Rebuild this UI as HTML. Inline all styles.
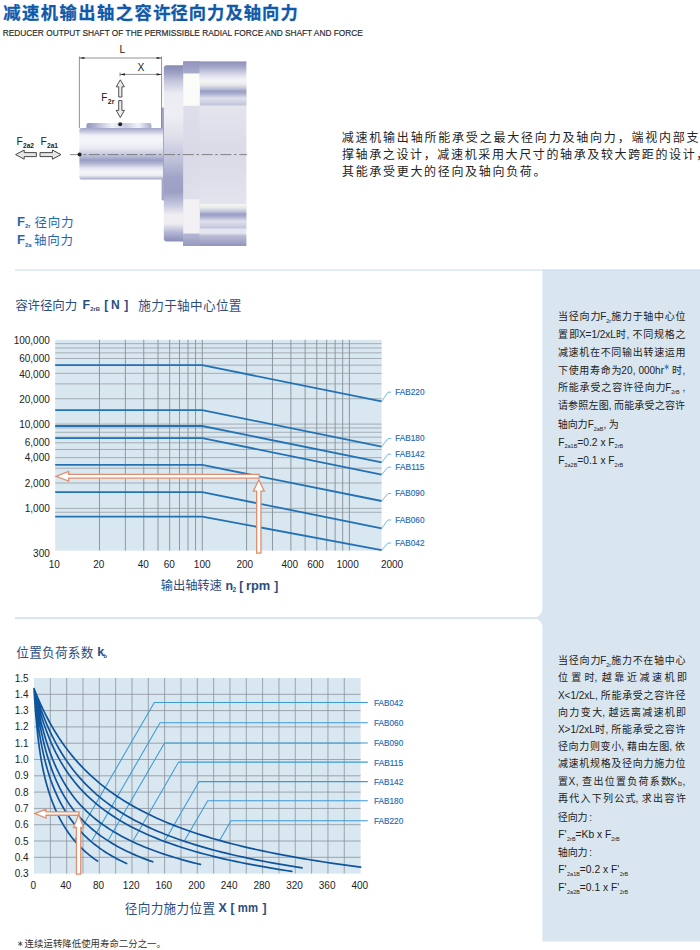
<!DOCTYPE html>
<html lang="zh"><head><meta charset="utf-8"><title>减速机输出轴之容许径向力及轴向力</title>
<style>html,body{margin:0;padding:0;background:#fff}body{width:700px;height:950px;overflow:hidden;font-family:"Liberation Sans","Noto Sans CJK SC",sans-serif}svg{display:block}text{font-family:"Liberation Sans","Noto Sans CJK SC",sans-serif}</style>
</head><body>
<svg width="700" height="950" viewBox="0 0 700 950">
<defs>

<linearGradient id="gShaft" x1="0" y1="0" x2="0" y2="1">
<stop offset="0" stop-color="#a2a7c9"/><stop offset="0.05" stop-color="#bbbed8"/><stop offset="0.14" stop-color="#eff0f6"/><stop offset="0.24" stop-color="#f5f6f9"/><stop offset="0.38" stop-color="#eaebf3"/><stop offset="0.5" stop-color="#cacde1"/><stop offset="0.57" stop-color="#b0b4d1"/><stop offset="0.625" stop-color="#989dc2"/><stop offset="0.69" stop-color="#b1b5d2"/><stop offset="0.77" stop-color="#e0e1ed"/><stop offset="0.85" stop-color="#f5f6f9"/><stop offset="0.92" stop-color="#edeef4"/><stop offset="0.97" stop-color="#c0c3db"/><stop offset="1" stop-color="#a2a7c9"/>
</linearGradient>
<linearGradient id="gKey" x1="0" y1="0" x2="1" y2="0">
<stop offset="0" stop-color="#9298be"/><stop offset="0.12" stop-color="#abafce"/><stop offset="0.4" stop-color="#f3f4f9"/><stop offset="0.6" stop-color="#cacde1"/>
<stop offset="0.8" stop-color="#f3f4f9"/><stop offset="1" stop-color="#a7abcb"/>
</linearGradient>
<linearGradient id="gFlange" x1="0" y1="0" x2="0" y2="1">
<stop offset="0" stop-color="#878ab4"/><stop offset="0.04" stop-color="#9c9fc2"/><stop offset="0.09" stop-color="#c4c6dc"/><stop offset="0.16" stop-color="#ebebf3"/><stop offset="0.28" stop-color="#eeeef4"/><stop offset="0.4" stop-color="#e0e0ec"/><stop offset="0.55" stop-color="#bbbed7"/><stop offset="0.64" stop-color="#9fa3c7"/><stop offset="0.72" stop-color="#9ca0c4"/><stop offset="0.79" stop-color="#c4c6dc"/><stop offset="0.85" stop-color="#f1eef3"/><stop offset="0.9" stop-color="#eeebf2"/><stop offset="0.95" stop-color="#b2b5d2"/><stop offset="1" stop-color="#8a8db7"/>
</linearGradient>
<linearGradient id="gRing" x1="0" y1="0" x2="0" y2="1">
<stop offset="0" stop-color="#9193bc"/><stop offset="0.065" stop-color="#a8abcb"/><stop offset="0.066" stop-color="#fcfcf8"/><stop offset="0.238" stop-color="#fafaf8"/><stop offset="0.243" stop-color="#dfdfeb"/><stop offset="0.5" stop-color="#d8d8e7"/><stop offset="0.745" stop-color="#e0e0ec"/><stop offset="0.75" stop-color="#f4f1f5"/><stop offset="0.93" stop-color="#f3f0f4"/><stop offset="0.935" stop-color="#b4b7d3"/><stop offset="1" stop-color="#9799bf"/>
</linearGradient>
<linearGradient id="gBody" x1="0" y1="0" x2="0" y2="1">
<stop offset="0" stop-color="#8c8eb8"/><stop offset="0.035" stop-color="#aaadcd"/><stop offset="0.075" stop-color="#ddddeb"/><stop offset="0.1" stop-color="#f3f4f7"/><stop offset="0.25" stop-color="#e3e4ee"/><stop offset="0.5" stop-color="#dadae8"/><stop offset="0.75" stop-color="#e2e3ed"/><stop offset="0.93" stop-color="#e4e5ef"/><stop offset="0.945" stop-color="#babcd5"/><stop offset="1" stop-color="#9294bd"/>
</linearGradient>
<linearGradient id="gSlot" x1="0" y1="0" x2="0" y2="1">
<stop offset="0" stop-color="#f5f7f4"/><stop offset="0.15" stop-color="#e7eae9"/><stop offset="0.3" stop-color="#c1c5da"/><stop offset="0.42" stop-color="#989dc5"/><stop offset="0.52" stop-color="#abafcf"/><stop offset="0.7" stop-color="#dee0ec"/><stop offset="0.85" stop-color="#d1d2e4"/><stop offset="1" stop-color="#c1c3d9"/>
</linearGradient>

</defs>
<rect width="700" height="950" fill="#fff"/>
<path d="M542.4 270 H700 V941.4 H542.4 V627.1 A8.5 8.5 0 0 0 533.9 618.6 H15 V617.6 H533.9 A8.5 8.5 0 0 0 542.4 609.1 Z" fill="#d9e6f0"/>
<rect x="15" y="269.5" width="685" height="1" fill="#c9d9ea"/>
<rect x="15" y="617.6" width="520" height="1" fill="#c9d9ea"/>
<g fill="#1059a9" stroke="#1059a9" stroke-width="0.28" stroke-linejoin="round">
<text x="3.16" y="18.5" font-size="17.3" font-weight="bold" textLength="167.3">减速机输出轴之容许</text>
<text x="170.41" y="18.5" font-size="17.3" font-weight="bold" textLength="127.3">径向力及轴向力</text>
</g>
<text x="2.8" y="35.8" font-size="9.3" fill="#2a2a2a" stroke="#2a2a2a" stroke-width="0.18" textLength="360" lengthAdjust="spacingAndGlyphs">REDUCER OUTPUT SHAFT OF THE PERMISSIBLE RADIAL FORCE AND SHAFT AND FORCE</text>
<g>
<rect x="183.2" y="61.4" width="63.2" height="184.6" fill="url(#gBody)"/>
<rect x="183.2" y="61.4" width="16.2" height="184.6" fill="url(#gRing)"/>
<rect x="200" y="81" width="46.4" height="24.5" fill="url(#gSlot)"/>
<rect x="200" y="204" width="46.4" height="24.5" fill="url(#gSlot)"/>
<path d="M166.8 65.3 H183.2 V241.5 H166.8 Q163.8 241.5 163.8 238.5 V68.3 Q163.8 65.3 166.8 65.3Z" fill="url(#gFlange)"/>
<rect x="161.6" y="107.6" width="2.4" height="92.8" fill="#a3a7cc"/>
<path d="M88.4 123 H149.4 Q151.4 123 151.4 125 V128.5 H86.4 V125 Q86.4 123 88.4 123Z" fill="url(#gKey)"/>
<path d="M81.4 128 H161 Q163 128 163 129.5 V178 Q163 179.5 161 179.5 H81.4 Q79.4 179.5 79.4 177.5 V130 Q79.4 128 81.4 128Z" fill="url(#gShaft)"/>
<g stroke="#4a4a4a" stroke-width="0.6" fill="none">
<path d="M79.4 56.5 V128 M161.6 56.5 V128 M79.4 58 H161.6 M120 72.5 V76.5 M120 74.4 H161.6"/>
<path d="M70 154.6 H247" stroke="#666" stroke-width="0.75" stroke-dasharray="11 2.6 2.6 2.6"/>
</g>
<g fill="#222"><path d="M79.4 58 l5 -1.1 v2.2z M161.6 58 l-5 -1.1 v2.2z M120 74.4 l5 -1.1 v2.2z M161.6 74.4 l-5 -1.1 v2.2z"/>
<circle cx="120.2" cy="124.2" r="2"/><circle cx="79.6" cy="154.6" r="2"/></g>
<path d="M120.3 79.8 L116.2 86.8 L118.7 86.8 L118.7 97 L121.9 97 L121.9 86.8 L124.4 86.8 Z" fill="#ececec" stroke="#484848" stroke-width="0.95" stroke-linejoin="miter"/>
<path d="M120.3 117.6 L116.2 110.4 L118.7 110.4 L118.7 100.6 L121.9 100.6 L121.9 110.4 L124.4 110.4 Z" fill="#ececec" stroke="#484848" stroke-width="0.95" stroke-linejoin="miter"/>
<path d="M15.6 154.6 L24.2 150 L24.2 152.6 L36.4 152.6 L36.4 156.6 L24.2 156.6 L24.2 159.2 Z" fill="#e6e6e6" stroke="#484848" stroke-width="1.0" stroke-linejoin="miter"/>
<path d="M61 154.6 L52.4 150 L52.4 152.6 L40 152.6 L40 156.6 L52.4 156.6 L52.4 159.2 Z" fill="#e6e6e6" stroke="#484848" stroke-width="1.0" stroke-linejoin="miter"/>
<text x="122.4" y="53" font-size="10.3" fill="#222" stroke="none" text-anchor="middle">L</text>
<text x="141" y="71" font-size="10.3" fill="#222" stroke="none" text-anchor="middle">X</text>
<text x="101.2" y="100.6" font-size="10" fill="#222" stroke="none">F</text>
<text x="107.8" y="103.9" font-size="6.9" fill="#222" stroke="none" font-weight="bold">2r</text>
<text x="16.4" y="144.6" font-size="10.4" fill="#222" stroke="none">F</text>
<text x="23" y="147.8" font-size="6.6" fill="#222" stroke="none" font-weight="bold">2a2</text>
<text x="40.4" y="144.6" font-size="10.4" fill="#222" stroke="none">F</text>
<text x="47" y="147.8" font-size="6.6" fill="#222" stroke="none" font-weight="bold">2a1</text>
</g>
<text x="16.9" y="226" font-size="13" fill="#1c68b4" stroke="none" font-weight="bold">F</text>
<text x="24.9" y="228.4" font-size="6" fill="#1c68b4" stroke="none" font-weight="bold">2r</text>
<text x="34.62" y="226.9" font-size="12.5" fill="#1c68b4" stroke="none" textLength="38.9">径向力</text>
<text x="16.9" y="244.2" font-size="13" fill="#1c68b4" stroke="none" font-weight="bold">F</text>
<text x="24.9" y="246.6" font-size="6" fill="#1c68b4" stroke="none" font-weight="bold">2a</text>
<text x="34.02" y="245.1" font-size="12.5" fill="#1c68b4" stroke="none" textLength="38.9">轴向力</text>
<g fill="#222" stroke="none">
<text x="341.64" y="141.9" font-size="12" textLength="357">减速机输出轴所能承受之最大径向力及轴向力，端视内部支</text>
<text x="341.96" y="159" font-size="12" textLength="366.4">撑轴承之设计，减速机采用大尺寸的轴承及较大跨距的设计，</text>
<text x="341.96" y="176.1" font-size="12" textLength="203.6">其能承受更大的径向及轴向负荷。</text>
</g>
<text x="15.25" y="310" font-size="12.5" fill="#2b4d7e" stroke="none" textLength="62">容许径向力</text>
<text x="82.4" y="309.2" font-size="12.4" fill="#2b4d7e" stroke="none" font-weight="bold">F</text>
<text x="90.2" y="311" font-size="5.9" fill="#2b4d7e" stroke="none" font-weight="bold">2rB</text>
<text x="104.3" y="309.2" font-size="12" fill="#2b4d7e" stroke="none" font-weight="bold">[</text>
<text x="111" y="309.2" font-size="12" fill="#2b4d7e" stroke="none" font-weight="bold">N</text>
<text x="124.3" y="309.2" font-size="12" fill="#2b4d7e" stroke="none" font-weight="bold">]</text>
<text x="138.25" y="310" font-size="12.6" fill="#2b4d7e" stroke="none" textLength="103.2">施力于轴中心位置</text>
<rect x="55.2" y="339.8" width="326.4" height="210.8" fill="#d9e7f0"/>
<path d="M99.48 339.8V550.6M125.38 339.8V550.6M143.76 339.8V550.6M158.02 339.8V550.6M169.67 339.8V550.6M179.51 339.8V550.6M188.04 339.8V550.6M195.57 339.8V550.6M202.3 339.8V550.6M246.58 339.8V550.6M272.48 339.8V550.6M290.86 339.8V550.6M305.12 339.8V550.6M316.77 339.8V550.6M326.61 339.8V550.6M335.14 339.8V550.6M342.67 339.8V550.6M349.4 339.8V550.6" stroke="#6f757d" stroke-width="0.7" fill="none"/>
<path d="M55.2 512.26H381.6M55.2 508.4H381.6M55.2 483.02H381.6M55.2 468.18H381.6M55.2 457.65H381.6M55.2 449.48H381.6M55.2 442.8H381.6M55.2 437.16H381.6M55.2 432.27H381.6M55.2 427.96H381.6M55.2 424.1H381.6M55.2 398.72H381.6M55.2 383.88H381.6M55.2 373.35H381.6M55.2 365.18H381.6M55.2 358.5H381.6M55.2 352.86H381.6M55.2 347.97H381.6M55.2 343.66H381.6" stroke="#8d939b" stroke-width="0.7" fill="none"/>
<text x="49.8" y="344" font-size="10" fill="#222" stroke="none" text-anchor="end">100,000</text>
<text x="49.8" y="362" font-size="10" fill="#222" stroke="none" text-anchor="end">60,000</text>
<text x="49.8" y="377.6" font-size="10" fill="#222" stroke="none" text-anchor="end">40,000</text>
<text x="49.8" y="402.8" font-size="10" fill="#222" stroke="none" text-anchor="end">20,000</text>
<text x="49.8" y="427.8" font-size="10" fill="#222" stroke="none" text-anchor="end">10,000</text>
<text x="49.8" y="446.2" font-size="10" fill="#222" stroke="none" text-anchor="end">6,000</text>
<text x="49.8" y="461.2" font-size="10" fill="#222" stroke="none" text-anchor="end">4,000</text>
<text x="49.8" y="486.6" font-size="10" fill="#222" stroke="none" text-anchor="end">2,000</text>
<text x="49.8" y="512" font-size="10" fill="#222" stroke="none" text-anchor="end">1,000</text>
<text x="49.8" y="556.6" font-size="10" fill="#222" stroke="none" text-anchor="end">300</text>
<text x="54.2" y="568" font-size="10" fill="#222" stroke="none" text-anchor="middle">10</text>
<text x="98.8" y="568" font-size="10" fill="#222" stroke="none" text-anchor="middle">20</text>
<text x="143.2" y="568" font-size="10" fill="#222" stroke="none" text-anchor="middle">40</text>
<text x="169.2" y="568" font-size="10" fill="#222" stroke="none" text-anchor="middle">60</text>
<text x="202.2" y="568" font-size="10" fill="#222" stroke="none" text-anchor="middle">100</text>
<text x="244.8" y="568" font-size="10" fill="#222" stroke="none" text-anchor="middle">200</text>
<text x="289.8" y="568" font-size="10" fill="#222" stroke="none" text-anchor="middle">400</text>
<text x="315.6" y="568" font-size="10" fill="#222" stroke="none" text-anchor="middle">600</text>
<text x="347.6" y="568" font-size="10" fill="#222" stroke="none" text-anchor="middle">1000</text>
<text x="392" y="568" font-size="10" fill="#222" stroke="none" text-anchor="middle">2000</text>
<path d="M55.2 365.1H202.3L381.6 401.4M55.2 410.2H202.3L381.6 446.6M55.2 426H202.3L381.6 462.4M55.2 438.1H202.3L381.6 474.6M55.2 464.9H202.3L381.6 501M55.2 492.1H202.3L381.6 528.4M55.2 516.6H202.3L381.6 550.2" stroke="#2372b6" stroke-width="1.8" fill="none" stroke-linejoin="round"/>
<path d="M381.6 401.4L388 392.2H391.2M381.6 446.6L388 438.6H391.2M381.6 462.4L388 454.2H391.2M381.6 474.6L388 467.2H391.2M381.6 501L388 493.6H391.2M381.6 528.4L388 520H391.2M381.6 550.2L388 543H391.2" stroke="#3a9bd5" stroke-width="0.7" fill="none"/>
<text x="395.3" y="395" font-size="9.8" fill="#1c68b4" stroke="#1c68b4" stroke-width="0.15" textLength="29.2" lengthAdjust="spacingAndGlyphs">FAB220</text>
<text x="395.3" y="441.4" font-size="9.8" fill="#1c68b4" stroke="#1c68b4" stroke-width="0.15" textLength="29.2" lengthAdjust="spacingAndGlyphs">FAB180</text>
<text x="395.3" y="457" font-size="9.8" fill="#1c68b4" stroke="#1c68b4" stroke-width="0.15" textLength="29.2" lengthAdjust="spacingAndGlyphs">FAB142</text>
<text x="395.3" y="470" font-size="9.8" fill="#1c68b4" stroke="#1c68b4" stroke-width="0.15" textLength="29.2" lengthAdjust="spacingAndGlyphs">FAB115</text>
<text x="395.3" y="496.4" font-size="9.8" fill="#1c68b4" stroke="#1c68b4" stroke-width="0.15" textLength="29.2" lengthAdjust="spacingAndGlyphs">FAB090</text>
<text x="395.3" y="522.8" font-size="9.8" fill="#1c68b4" stroke="#1c68b4" stroke-width="0.15" textLength="29.2" lengthAdjust="spacingAndGlyphs">FAB060</text>
<text x="395.3" y="545.8" font-size="9.8" fill="#1c68b4" stroke="#1c68b4" stroke-width="0.15" textLength="29.2" lengthAdjust="spacingAndGlyphs">FAB042</text>
<path d="M56 476.3 L68.7 471.5 L68.7 474.45 L259.2 474.45 L259.2 478.15 L68.7 478.15 L68.7 481.1 Z" fill="#fff" stroke="#e08e6e" stroke-width="1.3" stroke-linejoin="miter"/>
<path d="M258.8 480 L253.3 491.2 L256.65 491.2 L256.65 553.2 L260.95 553.2 L260.95 491.2 L264.3 491.2 Z" fill="#fff" stroke="#e08e6e" stroke-width="1.3" stroke-linejoin="miter"/>
<text x="160.85" y="590.1" font-size="12.3" fill="#2b4d7e" stroke="none" textLength="61">输出轴转速</text>
<text x="225.4" y="589.6" font-size="12.4" fill="#2b4d7e" stroke="none" font-weight="bold">n</text>
<text x="232.6" y="591.6" font-size="6.6" fill="#2b4d7e" stroke="none" font-weight="bold">2</text>
<text x="239.2" y="589.6" font-size="12" fill="#2b4d7e" stroke="none" font-weight="bold">[</text>
<text x="246" y="589.6" font-size="12.4" fill="#2b4d7e" stroke="none" font-weight="bold" textLength="24.3" lengthAdjust="spacingAndGlyphs">rpm</text>
<text x="274.2" y="589.6" font-size="12" fill="#2b4d7e" stroke="none" font-weight="bold">]</text>
<text x="16.23" y="657" font-size="12.6" fill="#2b4d7e" stroke="none" textLength="77.1">位置负荷系数</text>
<text x="97.2" y="656.4" font-size="12.6" fill="#2b4d7e" stroke="none" font-weight="bold">k</text>
<text x="103.6" y="658" font-size="5.8" fill="#2b4d7e" stroke="none" font-weight="bold">b</text>
<rect x="34" y="678" width="326.6" height="195.6" fill="#d9e7f0"/>
<path d="M50.33 678V873.6M66.66 678V873.6M82.99 678V873.6M99.32 678V873.6M115.65 678V873.6M131.98 678V873.6M148.31 678V873.6M164.64 678V873.6M180.97 678V873.6M197.3 678V873.6M213.63 678V873.6M229.96 678V873.6M246.29 678V873.6M262.62 678V873.6M278.95 678V873.6M295.28 678V873.6M311.61 678V873.6M327.94 678V873.6M344.27 678V873.6M34 694.3H360.6M34 710.6H360.6M34 726.9H360.6M34 743.2H360.6M34 759.5H360.6M34 775.8H360.6M34 792.1H360.6M34 808.4H360.6M34 824.7H360.6M34 841H360.6M34 857.3H360.6" stroke="#878d97" stroke-width="0.75" fill="none"/>
<text x="28.6" y="681.5" font-size="10" fill="#222" stroke="none" text-anchor="end">1.5</text>
<text x="28.6" y="697.8" font-size="10" fill="#222" stroke="none" text-anchor="end">1.4</text>
<text x="28.6" y="714.1" font-size="10" fill="#222" stroke="none" text-anchor="end">1.3</text>
<text x="28.6" y="730.4" font-size="10" fill="#222" stroke="none" text-anchor="end">1.2</text>
<text x="28.6" y="746.7" font-size="10" fill="#222" stroke="none" text-anchor="end">1.1</text>
<text x="28.6" y="763" font-size="10" fill="#222" stroke="none" text-anchor="end">1.0</text>
<text x="28.6" y="779.3" font-size="10" fill="#222" stroke="none" text-anchor="end">0.9</text>
<text x="28.6" y="795.6" font-size="10" fill="#222" stroke="none" text-anchor="end">0.8</text>
<text x="28.6" y="811.9" font-size="10" fill="#222" stroke="none" text-anchor="end">0.7</text>
<text x="28.6" y="828.2" font-size="10" fill="#222" stroke="none" text-anchor="end">0.6</text>
<text x="28.6" y="844.5" font-size="10" fill="#222" stroke="none" text-anchor="end">0.5</text>
<text x="28.6" y="860.8" font-size="10" fill="#222" stroke="none" text-anchor="end">0.4</text>
<text x="28.6" y="877.1" font-size="10" fill="#222" stroke="none" text-anchor="end">0.3</text>
<text x="33.2" y="889" font-size="10" fill="#222" stroke="none" text-anchor="middle">0</text>
<text x="65.86" y="889" font-size="10" fill="#222" stroke="none" text-anchor="middle">40</text>
<text x="98.52" y="889" font-size="10" fill="#222" stroke="none" text-anchor="middle">80</text>
<text x="131.18" y="889" font-size="10" fill="#222" stroke="none" text-anchor="middle">120</text>
<text x="163.84" y="889" font-size="10" fill="#222" stroke="none" text-anchor="middle">160</text>
<text x="196.5" y="889" font-size="10" fill="#222" stroke="none" text-anchor="middle">200</text>
<text x="229.16" y="889" font-size="10" fill="#222" stroke="none" text-anchor="middle">240</text>
<text x="261.82" y="889" font-size="10" fill="#222" stroke="none" text-anchor="middle">280</text>
<text x="294.48" y="889" font-size="10" fill="#222" stroke="none" text-anchor="middle">320</text>
<text x="327.14" y="889" font-size="10" fill="#222" stroke="none" text-anchor="middle">360</text>
<text x="359.8" y="889" font-size="10" fill="#222" stroke="none" text-anchor="middle">400</text>
<path d="M74.51 840.6L154.3 702.4H367.8M91.99 840.6L160 722.8H367.8M108.09 840.6L164.5 742.9H367.8M133.28 840.6L178.6 762.1H367.8M165.04 840.6L199.1 781.6H367.8M184.66 840.6L207.7 800.7H367.8M219.57 840.6L231 820.8H367.8" stroke="#3a9bd5" stroke-width="1.05" fill="none"/>
<path d="M34 688.6L34.07 689.78L34.21 692.15L34.41 695.28L34.65 698.95L34.93 703.03L35.25 707.39L35.6 711.94L35.98 716.6L36.39 721.29L36.82 725.98L37.29 730.62L37.78 735.18L38.3 739.62L38.84 743.95L39.4 748.15L39.99 752.2L40.6 756.12L41.23 759.9L41.88 763.55L42.56 767.07L43.25 770.46L43.97 773.74L44.7 776.9L45.46 779.97L46.23 782.93L47.02 785.81L47.83 788.6L48.66 791.31L49.51 793.95L50.37 796.51L51.26 799.01L52.16 801.44L53.07 803.81L54.01 806.12L54.96 808.37L55.92 810.57L56.9 812.72L57.9 814.82L58.92 816.86L59.95 818.86L60.99 820.81L62.05 822.71L63.13 824.57L64.22 826.39L65.33 828.16L66.45 829.89L67.58 831.57L68.73 833.22L69.9 834.83L71.08 836.4L72.27 837.93L73.48 839.43L74.7 840.89L75.94 842.31L77.19 843.71L78.45 845.07L79.73 846.39L81.02 847.69L82.32 848.95L83.64 850.19L84.97 851.39L86.31 852.57L87.67 853.72L89.04 854.84L90.42 855.94L91.82 857.01L93.22 858.06L94.64 859.08L96.08 860.08L97.52 861.06M34 688.6L34.1 689.71L34.31 691.92L34.6 694.86L34.95 698.33L35.36 702.2L35.82 706.36L36.33 710.73L36.88 715.24L37.48 719.82L38.12 724.42L38.79 729.01L39.51 733.56L40.26 738.03L41.05 742.41L41.87 746.69L42.73 750.86L43.62 754.9L44.54 758.83L45.49 762.63L46.48 766.32L47.49 769.88L48.53 773.34L49.6 776.68L50.7 779.92L51.83 783.07L52.98 786.11L54.16 789.07L55.37 791.94L56.61 794.72L57.87 797.43L59.15 800.06L60.46 802.62L61.8 805.11L63.16 807.54L64.54 809.89L65.95 812.19L67.38 814.43L68.84 816.61L70.32 818.73L71.82 820.8L73.34 822.81L74.89 824.77L76.46 826.69L78.05 828.55L79.66 830.36L81.3 832.13L82.95 833.86L84.63 835.54L86.33 837.17L88.05 838.77L89.79 840.32L91.55 841.84L93.33 843.32L95.13 844.76L96.95 846.16L98.79 847.53L100.65 848.86L102.53 850.16L104.43 851.43L106.35 852.67L108.29 853.88L110.25 855.05L112.23 856.2L114.22 857.32L116.24 858.41L118.27 859.48L120.32 860.52L122.39 861.54L124.48 862.53L126.59 863.5M34 688.6L34.13 689.57L34.4 691.52L34.77 694.13L35.22 697.24L35.74 700.74L36.33 704.56L36.98 708.61L37.69 712.85L38.46 717.21L39.28 721.66L40.15 726.15L41.06 730.64L42.03 735.12L43.04 739.56L44.1 743.93L45.19 748.22L46.33 752.42L47.51 756.51L48.74 760.5L50 764.38L51.29 768.14L52.63 771.78L54 775.3L55.41 778.71L56.86 782L58.34 785.18L59.86 788.26L61.4 791.23L62.99 794.09L64.6 796.87L66.25 799.55L67.93 802.14L69.64 804.65L71.39 807.08L73.16 809.43L74.97 811.71L76.8 813.92L78.67 816.07L80.57 818.15L82.49 820.18L84.44 822.14L86.43 824.06L88.44 825.92L90.48 827.73L92.55 829.49L94.64 831.2L96.77 832.87L98.92 834.5L101.09 836.09L103.3 837.63L105.53 839.14L107.79 840.61L110.07 842.05L112.38 843.45L114.71 844.81L117.07 846.14L119.46 847.44L121.87 848.71L124.31 849.95L126.77 851.16L129.26 852.34L131.77 853.5L134.3 854.63L136.86 855.73L139.44 856.8L142.05 857.85L144.68 858.88L147.34 859.88L150.02 860.86L152.72 861.82M34 688.6L34.19 689.63L34.56 691.71L35.08 694.49L35.71 697.79L36.44 701.51L37.27 705.56L38.18 709.85L39.18 714.33L40.25 718.93L41.4 723.62L42.61 728.33L43.9 733.05L45.25 737.74L46.67 742.36L48.15 746.92L49.69 751.38L51.29 755.73L52.94 759.96L54.65 764.07L56.42 768.05L58.24 771.9L60.11 775.62L62.04 779.21L64.02 782.68L66.04 786.01L68.12 789.22L70.24 792.32L72.41 795.3L74.63 798.18L76.89 800.95L79.2 803.62L81.56 806.2L83.96 808.69L86.4 811.1L88.89 813.43L91.42 815.68L94 817.86L96.61 819.97L99.27 822.02L101.97 824L104.71 825.93L107.49 827.8L110.31 829.62L113.16 831.38L116.06 833.1L119 834.77L121.98 836.4L124.99 837.98L128.04 839.53L131.13 841.03L134.26 842.49L137.42 843.92L140.62 845.31L143.86 846.67L147.13 847.99L150.44 849.28L153.79 850.54L157.17 851.77L160.58 852.97L164.03 854.14L167.52 855.28L171.03 856.4L174.59 857.49L178.18 858.55L181.8 859.59L185.45 860.61L189.14 861.6L192.86 862.57L196.62 863.51L200.4 864.44M34 688.6L34.29 689.83L34.87 692.28L35.67 695.54L36.64 699.39L37.78 703.68L39.06 708.29L40.47 713.14L42.02 718.13L43.68 723.2L45.46 728.3L47.34 733.37L49.34 738.39L51.43 743.32L53.63 748.14L55.92 752.84L58.3 757.4L60.78 761.82L63.34 766.1L65.99 770.23L68.73 774.22L71.55 778.07L74.45 781.78L77.43 785.36L80.5 788.81L83.63 792.14L86.85 795.36L90.14 798.46L93.5 801.46L96.94 804.36L100.45 807.17L104.02 809.88L107.67 812.51L111.39 815.05L115.18 817.51L119.03 819.9L122.95 822.22L126.94 824.46L130.99 826.64L135.11 828.75L139.29 830.8L143.53 832.79L147.83 834.71L152.2 836.59L156.63 838.41L161.12 840.17L165.67 841.89L170.28 843.55L174.95 845.17L179.68 846.74L184.46 848.27L189.31 849.76L194.21 851.2L199.16 852.6L204.18 853.96L209.25 855.29L214.37 856.58L219.56 857.83L224.79 859.05L230.08 860.24L235.43 861.39L240.82 862.51L246.28 863.6L251.78 864.67L257.34 865.7L262.95 866.71L268.61 867.69L274.32 868.65L280.09 869.58L285.9 870.49L291.77 871.38M34 688.6L34.3 689.59L34.91 691.59L35.74 694.25L36.75 697.42L37.93 700.99L39.26 704.87L40.73 709L42.34 713.3L44.07 717.73L45.91 722.24L47.88 726.79L49.95 731.35L52.13 735.9L54.41 740.4L56.79 744.85L59.27 749.22L61.85 753.51L64.51 757.7L67.27 761.79L70.12 765.78L73.05 769.66L76.07 773.43L79.17 777.09L82.35 780.65L85.61 784.09L88.96 787.44L92.38 790.68L95.88 793.82L99.45 796.86L103.1 799.81L106.82 802.67L110.61 805.44L114.48 808.12L118.42 810.73L122.43 813.25L126.5 815.7L130.65 818.07L134.86 820.38L139.14 822.61L143.49 824.78L147.9 826.89L152.38 828.93L156.92 830.91L161.52 832.84L166.19 834.71L170.92 836.52L175.72 838.29L180.57 840L185.49 841.67L190.47 843.29L195.5 844.86L200.6 846.39L205.76 847.88L210.97 849.32L216.24 850.73L221.57 852.09L226.96 853.42L232.41 854.72L237.91 855.98L243.47 857.2L249.08 858.39L254.75 859.55L260.47 860.68L266.25 861.78L272.08 862.86L277.97 863.9L283.91 864.92L289.91 865.91L295.96 866.87L302.06 867.81M34 688.6L34.36 689.52L35.11 691.38L36.11 693.86L37.35 696.82L38.79 700.16L40.41 703.81L42.2 707.69L44.16 711.75L46.26 715.95L48.52 720.24L50.91 724.58L53.43 728.95L56.09 733.33L58.87 737.68L61.77 742L64.79 746.26L67.93 750.46L71.18 754.59L74.54 758.63L78.01 762.59L81.58 766.45L85.25 770.22L89.03 773.9L92.91 777.48L96.89 780.97L100.96 784.35L105.13 787.65L109.39 790.85L113.74 793.96L118.19 796.98L122.72 799.91L127.35 802.76L132.06 805.52L136.86 808.2L141.74 810.81L146.71 813.33L151.76 815.79L156.89 818.16L162.1 820.47L167.4 822.72L172.78 824.89L178.23 827.01L183.76 829.06L189.38 831.05L195.06 832.98L200.83 834.86L206.67 836.68L212.59 838.45L218.58 840.17L224.64 841.84L230.78 843.46L236.99 845.04L243.27 846.57L249.62 848.06L256.04 849.5L262.54 850.91L269.1 852.28L275.74 853.61L282.44 854.9L289.21 856.16L296.05 857.39L302.96 858.58L309.93 859.74L316.97 860.87L324.08 861.97L331.26 863.04L338.49 864.08L345.8 865.09L353.17 866.08L360.6 867.05" stroke="#0f559e" stroke-width="1.7" fill="none" stroke-linejoin="round" stroke-linecap="round"/>
<text x="374" y="705.8" font-size="9.8" fill="#1c68b4" stroke="#1c68b4" stroke-width="0.15" textLength="29.2" lengthAdjust="spacingAndGlyphs">FAB042</text>
<text x="374" y="726.2" font-size="9.8" fill="#1c68b4" stroke="#1c68b4" stroke-width="0.15" textLength="29.2" lengthAdjust="spacingAndGlyphs">FAB060</text>
<text x="374" y="746.3" font-size="9.8" fill="#1c68b4" stroke="#1c68b4" stroke-width="0.15" textLength="29.2" lengthAdjust="spacingAndGlyphs">FAB090</text>
<text x="374" y="765.5" font-size="9.8" fill="#1c68b4" stroke="#1c68b4" stroke-width="0.15" textLength="29.2" lengthAdjust="spacingAndGlyphs">FAB115</text>
<text x="374" y="785" font-size="9.8" fill="#1c68b4" stroke="#1c68b4" stroke-width="0.15" textLength="29.2" lengthAdjust="spacingAndGlyphs">FAB142</text>
<text x="374" y="804.1" font-size="9.8" fill="#1c68b4" stroke="#1c68b4" stroke-width="0.15" textLength="29.2" lengthAdjust="spacingAndGlyphs">FAB180</text>
<text x="374" y="824.2" font-size="9.8" fill="#1c68b4" stroke="#1c68b4" stroke-width="0.15" textLength="29.2" lengthAdjust="spacingAndGlyphs">FAB220</text>
<path d="M34.8 813.6 L46 809.2 L46 811.95 L79 811.95 L79 815.25 L46 815.25 L46 818 Z" fill="#fff" stroke="#e08e6e" stroke-width="1.3" stroke-linejoin="miter"/>
<path d="M78.6 814.8 L73.6 827.5 L76.45 827.5 L76.45 874.2 L80.75 874.2 L80.75 827.5 L83.6 827.5 Z" fill="#fff" stroke="#e08e6e" stroke-width="1.3" stroke-linejoin="miter"/>
<text x="124.75" y="912.6" font-size="12.6" fill="#2b4d7e" stroke="none" textLength="90.3">径向力施力位置</text>
<text x="218.4" y="912.2" font-size="12.4" fill="#2b4d7e" stroke="none" font-weight="bold">X</text>
<text x="230.4" y="912.2" font-size="12" fill="#2b4d7e" stroke="none" font-weight="bold">[</text>
<text x="237.8" y="912.2" font-size="12.4" fill="#2b4d7e" stroke="none" font-weight="bold" textLength="20.2" lengthAdjust="spacingAndGlyphs">mm</text>
<text x="262.6" y="912.2" font-size="12" fill="#2b4d7e" stroke="none" font-weight="bold">]</text>
<path d="M20.3 941.3v4.8M18.2 942.5l4.2 2.4M18.2 944.9l4.2 -2.4" stroke="#333" stroke-width="0.8" fill="none"/>
<text x="24.61" y="947.3" font-size="9.4" fill="#333" stroke="none" textLength="141.3">连续运转降低使用寿命二分之一。</text>
<g fill="#222" stroke="none">
<text x="557.91" y="320.1" font-size="10" textLength="42.5">当径向力</text>
<text x="600.21" y="320.1" font-size="10" fill="#222" stroke="none">F</text>
<text x="606.32" y="322.7" font-size="5.4" fill="#222" stroke="none">2r</text>
<text x="611.16" y="320.1" font-size="10" textLength="74.4">施力于轴中心位</text>
</g>
<g fill="#222" stroke="none">
<text x="557.91" y="338" font-size="10" textLength="21.25">置即</text>
<text x="578.96" y="338" font-size="10" fill="#222" stroke="none">X=1/2xL</text>
<text x="615.98" y="338" font-size="10">时</text>
<text x="626.6" y="338" font-size="10" fill="#222" stroke="none">, </text>
<text x="632.4" y="338" font-size="10" textLength="53.1">不同规格之</text>
</g>
<g fill="#222" stroke="none">
<text x="557.91" y="356" font-size="10" textLength="127.6">减速机在不同输出转速运用</text>
</g>
<g fill="#222" stroke="none">
<text x="557.91" y="373.5" font-size="10" textLength="63.6">下使用寿命为</text>
<text x="621.35" y="373.5" font-size="10" fill="#222" stroke="none">20</text>
<text x="632.68" y="373.5" font-size="10" fill="#222" stroke="none">, </text>
<text x="638.44" y="373.5" font-size="10" fill="#222" stroke="none">000hr</text>
<path d="M666.71 364.4v5.2M664.61 365.75l4.2 2.5M664.61 368.25l4.2 -2.5" stroke="#2a6cb5" stroke-width="0.85" fill="none"/>
<text x="671.93" y="373.5" font-size="10">时</text>
<text x="682.52" y="373.5" font-size="10" fill="#222" stroke="none">,</text>
</g>
<g fill="#222" stroke="none">
<text x="557.91" y="391.4" font-size="10" textLength="107.6">所能承受之容许径向力</text>
<text x="665.15" y="391.4" font-size="10" fill="#222" stroke="none">F</text>
<text x="671.26" y="394" font-size="5.4" fill="#222" stroke="none">2rB</text>
<text x="682.52" y="391.4" font-size="10" fill="#222" stroke="none">,</text>
</g>
<g fill="#222" stroke="none">
<text x="557.91" y="409.2" font-size="10" textLength="50.8">请参照左图</text>
<text x="608.67" y="409.2" font-size="10" fill="#222" stroke="none">, </text>
<text x="613.99" y="409.2" font-size="10" textLength="71.1">而能承受之容许</text>
</g>
<g fill="#222" stroke="none">
<text x="557.69" y="428" font-size="10" textLength="29.9">轴向力</text>
<text x="587.75" y="428" font-size="10" fill="#222" stroke="none">F</text>
<text x="593.86" y="430.6" font-size="5.4" fill="#222" stroke="none">2aB</text>
<text x="603.47" y="428" font-size="10" fill="#222" stroke="none">, </text>
<text x="608.81" y="428" font-size="10">为</text>
</g>
<g fill="#222" stroke="none">
<text x="558.2" y="445.7" font-size="10.25" fill="#222" stroke="none">F</text>
<text x="564.46" y="448.3" font-size="5.5" fill="#222" stroke="none">2a1B</text>
<text x="577.31" y="445.7" font-size="10.25" fill="#222" stroke="none">=0.2 x F</text>
<text x="614.62" y="448.3" font-size="5.5" fill="#222" stroke="none">2rB</text>
</g>
<g fill="#222" stroke="none">
<text x="558.2" y="463.9" font-size="10.25" fill="#222" stroke="none">F</text>
<text x="564.46" y="466.5" font-size="5.5" fill="#222" stroke="none">2a2B</text>
<text x="577.31" y="463.9" font-size="10.25" fill="#222" stroke="none">=0.1 x F</text>
<text x="614.62" y="466.5" font-size="5.5" fill="#222" stroke="none">2rB</text>
</g>
<g fill="#222" stroke="none">
<text x="557.91" y="664.1" font-size="10" textLength="42.5">当径向力</text>
<text x="600.21" y="664.1" font-size="10" fill="#222" stroke="none">F</text>
<text x="606.32" y="666.7" font-size="5.4" fill="#222" stroke="none">2r</text>
<text x="611.16" y="664.1" font-size="10" textLength="74.4">施力不在轴中心</text>
</g>
<g fill="#222" stroke="none">
<text x="557.91" y="681.3" font-size="10" textLength="36.5">位置时</text>
<text x="594.45" y="681.3" font-size="10" fill="#222" stroke="none">, </text>
<text x="601.8" y="681.3" font-size="10" textLength="85.3">越靠近减速机即</text>
</g>
<g fill="#222" stroke="none">
<text x="557.9" y="698.5" font-size="10" fill="#222" stroke="none">X&lt;1/2xL</text>
<text x="595.06" y="698.5" font-size="10" fill="#222" stroke="none">, </text>
<text x="600.81" y="698.5" font-size="10" textLength="84.7">所能承受之容许径</text>
</g>
<g fill="#222" stroke="none">
<text x="557.91" y="715.7" font-size="10" textLength="44.3">向力变大</text>
<text x="602.21" y="715.7" font-size="10" fill="#222" stroke="none">, </text>
<text x="608.45" y="715.7" font-size="10" textLength="77.5">越远离减速机即</text>
</g>
<g fill="#222" stroke="none">
<text x="557.9" y="732.9" font-size="10" fill="#222" stroke="none">X&gt;1/2xL</text>
<text x="594.91" y="732.9" font-size="10">时</text>
<text x="605.51" y="732.9" font-size="10" fill="#222" stroke="none">, </text>
<text x="611.28" y="732.9" font-size="10" textLength="74.2">所能承受之容许</text>
</g>
<g fill="#222" stroke="none">
<text x="557.91" y="750.1" font-size="10" textLength="63.3">径向力则变小</text>
<text x="621.24" y="750.1" font-size="10" fill="#222" stroke="none">, </text>
<text x="626.97" y="750.1" font-size="10" textLength="42.2">藉由左图</text>
<text x="669.19" y="750.1" font-size="10" fill="#222" stroke="none">, </text>
<text x="674.91" y="750.1" font-size="10">依</text>
</g>
<g fill="#222" stroke="none">
<text x="557.91" y="767.3" font-size="10" textLength="127.6">减速机规格及径向力施力位</text>
</g>
<g fill="#222" stroke="none">
<text x="557.91" y="784.5" font-size="10">置</text>
<text x="568.41" y="784.5" font-size="10" fill="#222" stroke="none">X</text>
<text x="575.81" y="784.5" font-size="10" fill="#222" stroke="none">, </text>
<text x="582.1" y="784.5" font-size="10" textLength="89">查出位置负荷系数</text>
<text x="670.5" y="784.5" font-size="10" fill="#222" stroke="none">K</text>
<text x="677.9" y="786.1" font-size="7" fill="#222" stroke="none">b</text>
<text x="682.52" y="784.5" font-size="10" fill="#222" stroke="none">,</text>
</g>
<g fill="#222" stroke="none">
<text x="557.91" y="801.7" font-size="10" textLength="77.5">再代入下列公式</text>
<text x="635.44" y="801.7" font-size="10" fill="#222" stroke="none">, </text>
<text x="641.68" y="801.7" font-size="10" textLength="44.3">求出容许</text>
</g>
<g fill="#222" stroke="none">
<text x="557.69" y="821.4" font-size="10" textLength="29.9">径向力</text>
<text x="589.25" y="821.4" font-size="10" fill="#222" stroke="none">:</text>
</g>
<g fill="#222" stroke="none">
<text x="558.2" y="838.2" font-size="10.25" fill="#222" stroke="none">F'</text>
<text x="567.02" y="840.8" font-size="5.5" fill="#222" stroke="none">2rB</text>
<text x="575.58" y="838.2" font-size="10.25" fill="#222" stroke="none">=Kb x F</text>
<text x="611.18" y="840.8" font-size="5.5" fill="#222" stroke="none">2rB</text>
</g>
<g fill="#222" stroke="none">
<text x="557.69" y="856.4" font-size="10" textLength="29.9">轴向力</text>
<text x="589.25" y="856.4" font-size="10" fill="#222" stroke="none">:</text>
</g>
<g fill="#222" stroke="none">
<text x="558.2" y="873.1" font-size="10.25" fill="#222" stroke="none">F'</text>
<text x="567.02" y="875.7" font-size="5.5" fill="#222" stroke="none">2a1B</text>
<text x="579.86" y="873.1" font-size="10.25" fill="#222" stroke="none">=0.2 x F'</text>
<text x="619.74" y="875.7" font-size="5.5" fill="#222" stroke="none">2rB</text>
</g>
<g fill="#222" stroke="none">
<text x="558.2" y="891.4" font-size="10.25" fill="#222" stroke="none">F'</text>
<text x="567.02" y="894" font-size="5.5" fill="#222" stroke="none">2a2B</text>
<text x="579.86" y="891.4" font-size="10.25" fill="#222" stroke="none">=0.1 x F'</text>
<text x="619.74" y="894" font-size="5.5" fill="#222" stroke="none">2rB</text>
</g>
</svg></body></html>
